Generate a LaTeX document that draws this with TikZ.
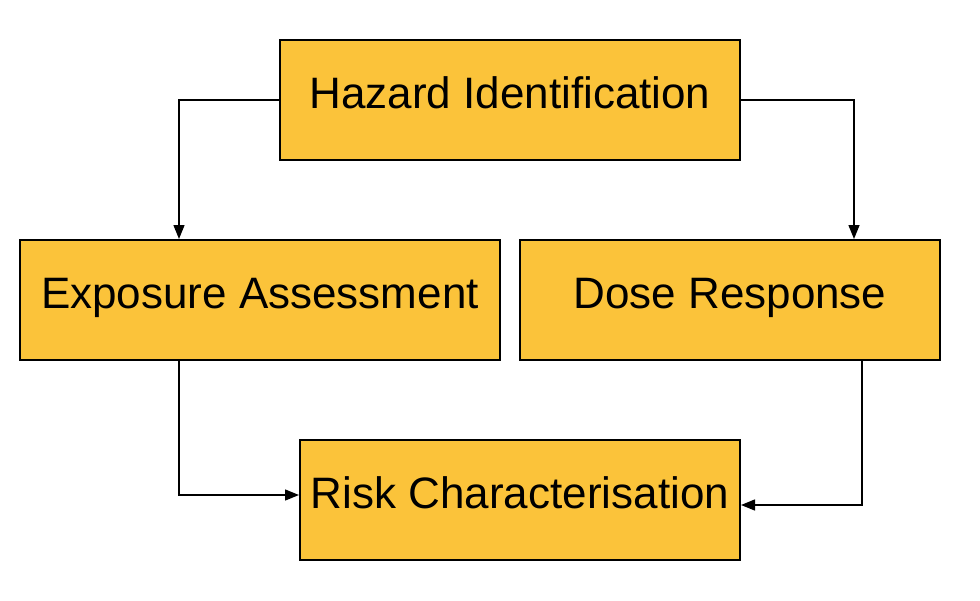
\documentclass[tikz,border=0pt]{standalone}
\usepackage{fontspec}
\setmainfont{Liberation Sans}
\usetikzlibrary{arrows.meta}
\definecolor{boxfill}{HTML}{FBC33A}
\begin{document}
\begin{tikzpicture}[x=1pt,y=-1pt,
  box/.style={draw, line width=2pt, fill=boxfill, minimum height=120pt, inner sep=0pt,
    text height=32pt, text depth=16pt, font=\fontsize{44}{52}\selectfont},
  arr/.style={line width=1.4pt, -{Triangle[length=14pt,width=11pt]}}]
\useasboundingbox (0,0) rectangle (980,600);

\node[box, minimum width=460pt] (haz) at (510,100) {Hazard Identification};

\node[box, minimum width=480pt] (expo) at (260,300) {Exposure Assessment};

\node[box, minimum width=420pt] (dose) at (730,300) {Dose Response};

\node[box, minimum width=440pt] (risk) at (520,500) {Risk Characterisation};

\draw[arr] (haz.west) -| ([xshift=160pt]expo.north west);

\draw[arr] (haz.east) -| ([xshift=335pt]dose.north west);

\draw[arr] ([xshift=160pt]expo.south west) |- ([yshift=5pt]risk.west);

\draw[arr] ([xshift=343pt]dose.south west) |- ([yshift=-5pt]risk.east);
\end{tikzpicture}
\end{document}
